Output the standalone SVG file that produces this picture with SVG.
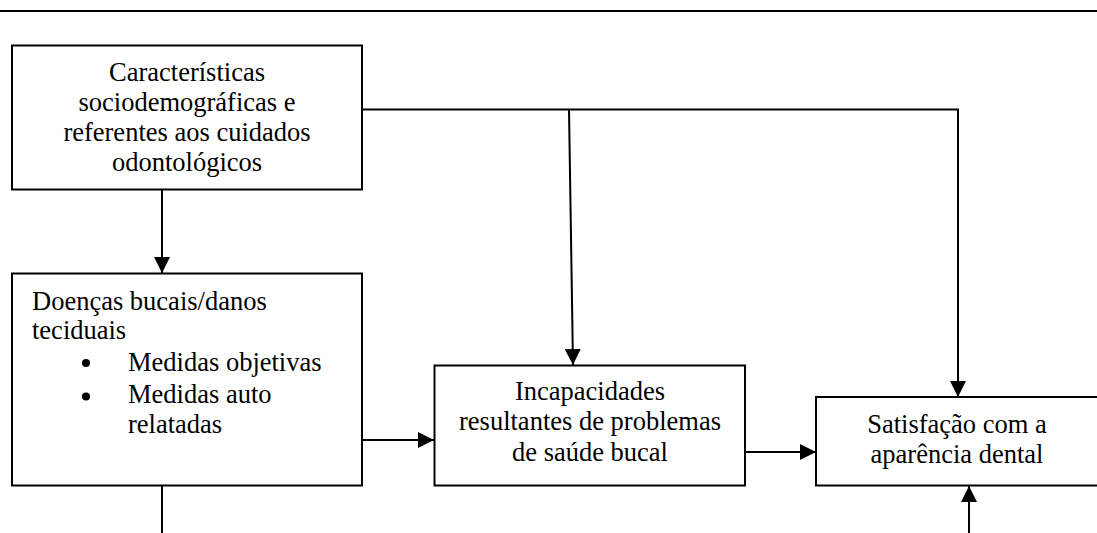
<svg xmlns="http://www.w3.org/2000/svg" width="1097" height="533" viewBox="0 0 1097 533">
<style>
.box{fill:#fff;stroke:#000;stroke-width:2}
text{font-family:'Liberation Serif','Times New Roman','DejaVu Serif',serif;font-size:26.5px;fill:#000}
.c{text-anchor:middle}
.ln{fill:none;stroke:#000;stroke-width:2}
</style>
<defs>
<marker id="ah" markerUnits="userSpaceOnUse" markerWidth="17" markerHeight="17" refX="16" refY="8" orient="auto">
<path d="M0,0 L16,8 L0,16 z" fill="#000"/>
</marker>
</defs>
<rect width="1097" height="533" fill="#fff"/>
<line x1="0" y1="11" x2="1097" y2="11" stroke="#000" stroke-width="2.2"/>
<g id="connectors">
<line class="ln" x1="162" y1="190" x2="162" y2="273" marker-end="url(#ah)"/>
<polyline class="ln" points="362,109.5 958,109.5 958,397" marker-end="url(#ah)"/>
<line class="ln" x1="569" y1="109.5" x2="573" y2="365" marker-end="url(#ah)"/>
<line class="ln" x1="362" y1="440" x2="434" y2="440" marker-end="url(#ah)"/>
<line class="ln" x1="745" y1="452" x2="816" y2="452" marker-end="url(#ah)"/>
<line class="ln" x1="969" y1="533" x2="969" y2="486" marker-end="url(#ah)"/>
<line class="ln" x1="162" y1="486" x2="162" y2="533"/>
</g>
<g id="node-caracteristicas">
<rect class="box" x="12" y="45.5" width="350" height="144"/>
<text class="c" font-family="Liberation Serif, serif" x="187" y="81">Características</text>
<text class="c" font-family="Liberation Serif, serif" x="187" y="111">sociodemográficas e</text>
<text class="c" font-family="Liberation Serif, serif" x="187" y="141">referentes aos cuidados</text>
<text class="c" font-family="Liberation Serif, serif" x="187" y="171">odontológicos</text>
</g>
<g id="node-doencas">
<rect class="box" x="12" y="273.5" width="350" height="212"/>
<text font-family="Liberation Serif, serif" x="32" y="310">Doenças bucais/danos</text>
<text font-family="Liberation Serif, serif" x="32" y="339">teciduais</text>
<circle cx="86" cy="363" r="4"/>
<text font-family="Liberation Serif, serif" x="128" y="371">Medidas objetivas</text>
<circle cx="86" cy="396.5" r="4"/>
<text font-family="Liberation Serif, serif" x="128" y="403">Medidas auto</text>
<text font-family="Liberation Serif, serif" x="128" y="433">relatadas</text>
</g>
<g id="node-incapacidades">
<rect class="box" x="434.5" y="365.5" width="310.5" height="120"/>
<text class="c" font-family="Liberation Serif, serif" x="590" y="400">Incapacidades</text>
<text class="c" font-family="Liberation Serif, serif" x="590" y="430">resultantes de problemas</text>
<text class="c" font-family="Liberation Serif, serif" x="590" y="461">de saúde bucal</text>
</g>
<g id="node-satisfacao">
<rect class="box" x="816" y="397" width="290" height="88.5"/>
<text class="c" font-family="Liberation Serif, serif" x="957" y="433">Satisfação com a</text>
<text class="c" font-family="Liberation Serif, serif" x="957" y="463">aparência dental</text>
</g>
</svg>
